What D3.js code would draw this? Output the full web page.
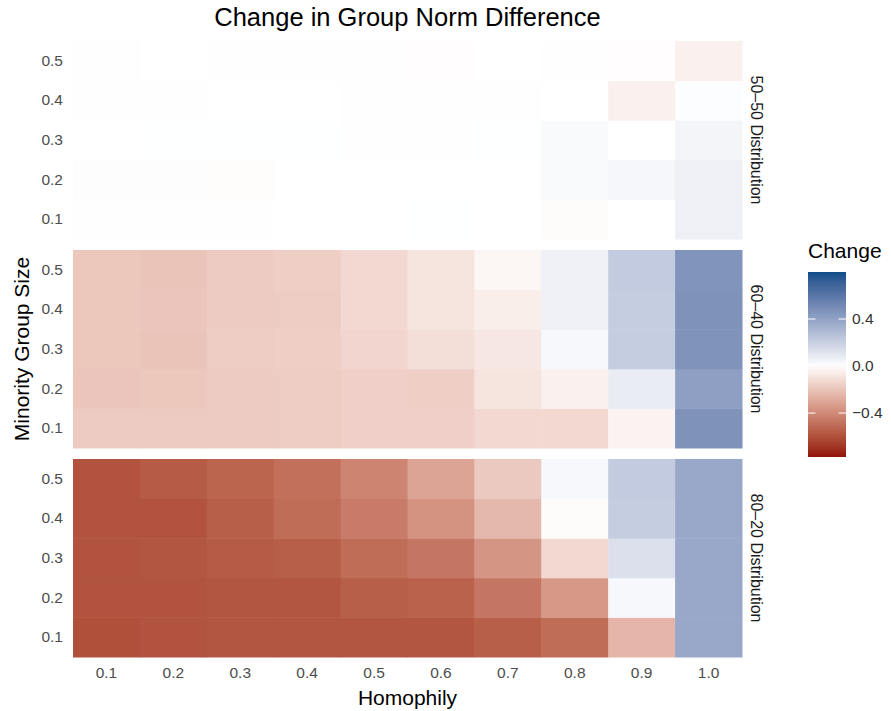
<!DOCTYPE html>
<html>
<head>
<meta charset="utf-8">
<script src="https://cdn.jsdelivr.net/npm/d3@7"></script>
<style>
  body { margin: 0; background: #fff; }
  svg text { font-family: "Liberation Sans", Arial, sans-serif; }
</style>
</head>
<body>
<svg width="891" height="711"></svg>
<script>
const homophily = ["0.1", "0.2", "0.3", "0.4", "0.5", "0.6", "0.7", "0.8", "0.9", "1.0"];
const groupSizes = ["0.1", "0.2", "0.3", "0.4", "0.5"];
const distributions = ["50–50 Distribution", "60–40 Distribution", "80–20 Distribution"];
const legendTicks = [-0.4, 0, 0.4];
const legendLimits = [-0.774, 0.8];

// rows = minority group size 0.1 .. 0.5, columns = homophily 0.1 .. 1.0
const change5050 = [
  [-0.003, -0.004, -0.004, 0, -0.001, 0.002, 0.001, -0.01, 0.001, 0.06],
  [-0.006, -0.006, -0.008, 0, -0.001, -0.001, 0.001, 0.02, 0.035, 0.06],
  [0, 0.002, 0.002, 0.002, 0.004, 0.003, 0.002, 0.022, 0, 0.04],
  [-0.004, -0.002, 0, 0, -0.003, -0.003, -0.004, 0, -0.05, 0.01],
  [-0.004, 0, -0.003, -0.003, -0.003, -0.005, 0, -0.003, -0.005, -0.05],
];
const change6040 = [
  [-0.175, -0.175, -0.175, -0.17, -0.16, -0.16, -0.13, -0.13, -0.04, 0.47],
  [-0.195, -0.19, -0.175, -0.17, -0.16, -0.165, -0.09, -0.05, 0.08, 0.41],
  [-0.19, -0.2, -0.17, -0.165, -0.14, -0.11, -0.08, 0.03, 0.21, 0.465],
  [-0.19, -0.195, -0.175, -0.17, -0.13, -0.09, -0.055, 0.06, 0.21, 0.47],
  [-0.19, -0.2, -0.175, -0.165, -0.13, -0.09, -0.03, 0.06, 0.22, 0.46],
];
const change8020 = [
  [-0.6, -0.59, -0.58, -0.58, -0.58, -0.58, -0.55, -0.5, -0.25, 0.37],
  [-0.59, -0.59, -0.58, -0.58, -0.55, -0.54, -0.47, -0.35, 0.03, 0.37],
  [-0.59, -0.58, -0.56, -0.55, -0.5, -0.47, -0.36, -0.13, 0.13, 0.37],
  [-0.59, -0.59, -0.55, -0.5, -0.45, -0.37, -0.24, -0.01, 0.21, 0.37],
  [-0.59, -0.56, -0.53, -0.49, -0.42, -0.31, -0.18, 0.03, 0.22, 0.37],
];
const changeByDist = [change5050, change6040, change8020];

const width = 891;
const height = 711;
const margin = { top: 41, right: 149, bottom: 54, left: 73 };
const innerWidth = width - margin.left - margin.right;
const innerHeight = height - margin.top - margin.bottom;
const panelGap = 11;
const panelH = (innerHeight - panelGap * 2) / 3;

const svg = d3.select("svg");

const color = d3
  .scaleLinear()
  .domain([-0.8, 0, 0.8])
  .range(["#8b0000", "#ffffff", "#104e8b"])
  .interpolate(d3.interpolateLab);

const xScale = d3.scaleBand().domain(homophily).range([0, innerWidth]);
const yScale = d3.scaleBand().domain(groupSizes.slice().reverse()).range([0, panelH]);

const chart = svg
  .append("g")
  .attr("transform", `translate(${margin.left}, ${margin.top})`);

distributions.forEach((dist, di) => {
  const panel = chart
    .append("g")
    .attr("transform", `translate(0, ${di * (panelH + panelGap)})`);

  const cells = [];
  changeByDist[di].forEach((row, ri) => {
    row.forEach((v, ci) => {
      cells.push({ x: homophily[ci], y: groupSizes[ri], v: v });
    });
  });

  panel
    .selectAll("rect")
    .data(cells)
    .enter()
    .append("rect")
    .attr("x", (d) => xScale(d.x))
    .attr("y", (d) => yScale(d.y))
    .attr("width", xScale.bandwidth() + 0.5)
    .attr("height", yScale.bandwidth() + 0.5)
    .attr("fill", (d) => color(d.v));

  const yAxis = panel.append("g").call(d3.axisLeft(yScale).tickSize(0).tickPadding(10));
  yAxis.select(".domain").remove();
  yAxis
    .selectAll("text")
    .attr("font-size", 15.5)
    .attr("fill", "#4d4d4d")
    .style("font-family", "Liberation Sans, Arial, sans-serif");

  // facet strip on the right
  panel
    .append("text")
    .attr("transform", `translate(${innerWidth + 15}, ${panelH / 2}) rotate(90)`)
    .attr("text-anchor", "middle")
    .attr("dy", "0.35em")
    .attr("font-size", 16)
    .attr("fill", "#1a1a1a")
    .text(dist);
});

const xAxis = chart
  .append("g")
  .attr("transform", `translate(0, ${innerHeight})`)
  .call(d3.axisBottom(xScale).tickSize(0).tickPadding(10));
xAxis.select(".domain").remove();
xAxis
  .selectAll("text")
  .attr("font-size", 15.5)
  .attr("fill", "#4d4d4d")
  .style("font-family", "Liberation Sans, Arial, sans-serif");

// titles
svg
  .append("text")
  .attr("x", margin.left + innerWidth / 2)
  .attr("y", 26)
  .attr("text-anchor", "middle")
  .attr("font-size", 25.5)
  .attr("fill", "#000")
  .text("Change in Group Norm Difference");

svg
  .append("text")
  .attr("x", margin.left + innerWidth / 2)
  .attr("y", 705)
  .attr("text-anchor", "middle")
  .attr("font-size", 21)
  .attr("fill", "#000")
  .text("Homophily");

svg
  .append("text")
  .attr("transform", `translate(29, ${margin.top + innerHeight / 2}) rotate(-90)`)
  .attr("text-anchor", "middle")
  .attr("font-size", 21)
  .attr("fill", "#000")
  .text("Minority Group Size");

// legend
const legX = 808;
const legW = 38;
const legScale = d3.scaleLinear().domain(legendLimits).range([457, 272]);

const defs = svg.append("defs");
const grad = defs
  .append("linearGradient")
  .attr("id", "legGrad")
  .attr("x1", 0)
  .attr("y1", 1)
  .attr("x2", 0)
  .attr("y2", 0);
d3.range(0, 1.0001, 0.05).forEach((t) => {
  const v = legendLimits[0] + t * (legendLimits[1] - legendLimits[0]);
  grad.append("stop").attr("offset", t).attr("stop-color", color(v));
});

svg
  .append("text")
  .attr("x", legX)
  .attr("y", 258)
  .attr("font-size", 21)
  .attr("fill", "#000")
  .text("Change");

svg
  .append("rect")
  .attr("x", legX)
  .attr("y", legScale(legendLimits[1]))
  .attr("width", legW)
  .attr("height", legScale(legendLimits[0]) - legScale(legendLimits[1]))
  .attr("fill", "url(#legGrad)");

const legTicks = svg.append("g");
legendTicks.forEach((t) => {
  const y = legScale(t);
  legTicks
    .append("line")
    .attr("x1", legX)
    .attr("x2", legX + 7.5)
    .attr("y1", y)
    .attr("y2", y)
    .attr("stroke", "#fff")
    .attr("stroke-width", 1);
  legTicks
    .append("line")
    .attr("x1", legX + legW - 7.5)
    .attr("x2", legX + legW)
    .attr("y1", y)
    .attr("y2", y)
    .attr("stroke", "#fff")
    .attr("stroke-width", 1);
  legTicks
    .append("text")
    .attr("x", legX + legW + 6)
    .attr("y", y)
    .attr("dy", "0.35em")
    .attr("font-size", 15.5)
    .attr("fill", "#333")
    .text(d3.format(".1f")(t).replace("-", "−"));
});
</script>
</body>
</html>
